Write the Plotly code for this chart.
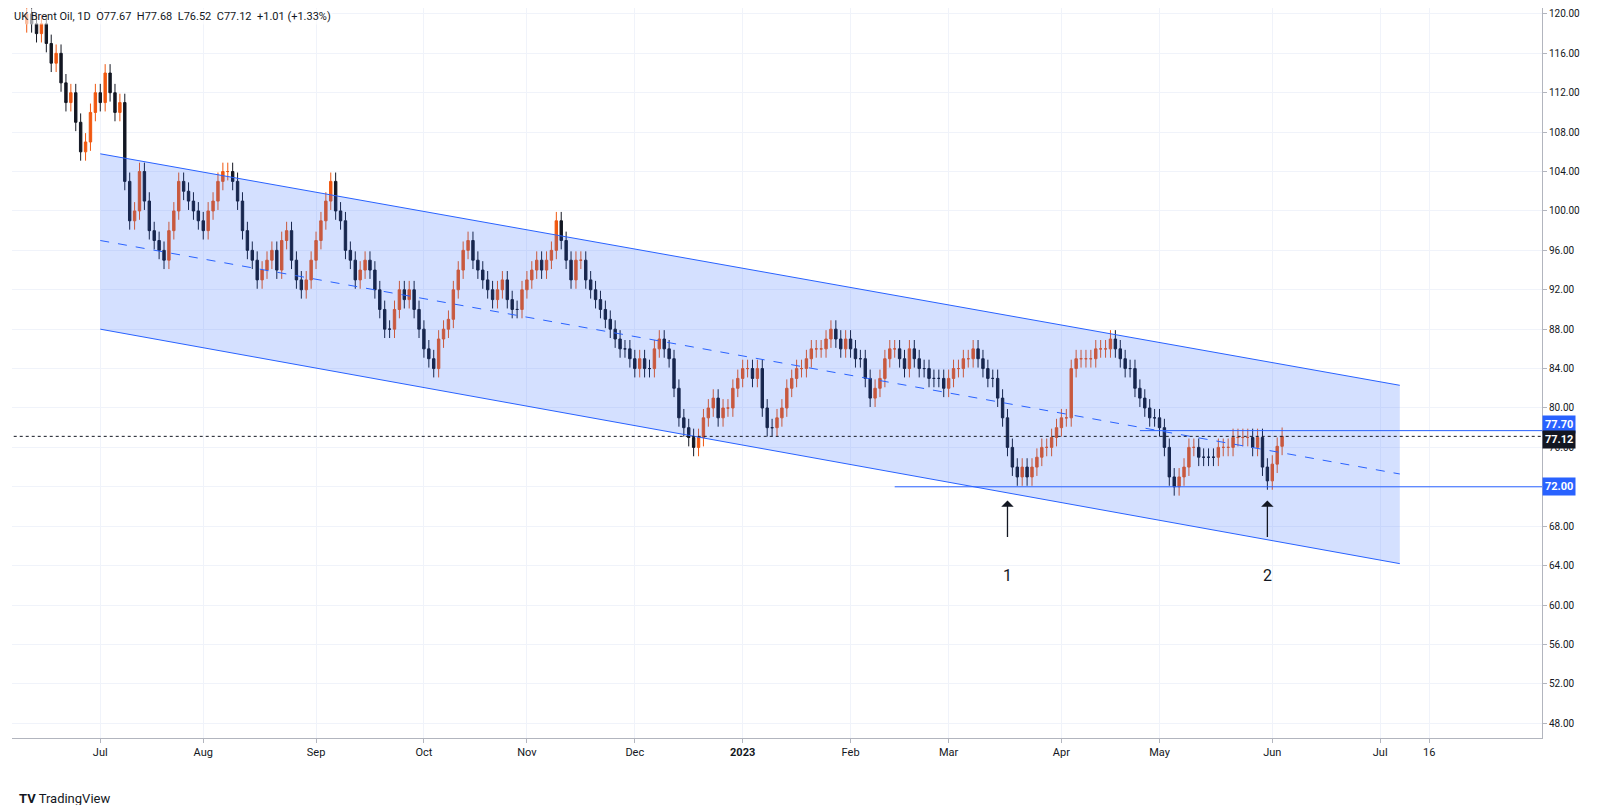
import pandas as pd
import plotly.graph_objects as go

closes = [
 # Jun 2022
 120,119,118,119,117,115,116,113,111,112,109,106,107,110,112,111,114,112,110,111,
 # Jul
 103,99,100,104,101,98,97,96,95,98,100,103,102,101,100,99,98,100,101,103,104,
 # Aug
 104,103,101,98,96,95,93,94,95,96,94,97,98,95,93,92,93,95,97,99,101,103,100,
 # Sep
 99,96,95,93,94,95,94,92,90,88,88,90,92,91,92,90,88,86,85,84,87,88,
 # Oct
 89,92,94,96,97,95,94,93,92,91,92,93,91,90,90,92,93,94,95,94,95,
 # Nov
 96,99,97,95,93,95,95,93,92,91,90,89,88,87,86,86,85,84,85,84,84,86,
 # Dec
 87,86,85,82,79,78,77,76,77,79,80,81,79,80,80,82,83,84,84,83,84,
 # Jan 2023
 80,78,78,79,80,82,83,84,84,85,86,86,86,87,88,87,86,87,86,85,85,
 # Feb
 83,81,82,83,85,86,86,85,84,86,85,84,84,83,83,83,82,83,84,
 # Mar
 84,85,85,86,85,84,83,83,81,79,76,74,73,74,73,74,75,76,76,77,78,79,79,
 # Apr
 84,85,85,85,85,86,86,86,87,86,85,84,84,82,81,80,79,79,78,
 # May
 76,73,72,73,74,76,76,75,75,75,75,76,76,76,77,77,77,77,76,77,74,72.6,
 # Jun
 74.3,76.11,77.12,
]
first_open = 119.0
wick = 0.9

dates = pd.bdate_range(end="2023-06-05", periods=len(closes))
opens = [first_open] + closes[:-1]
highs = [max(o, c) + wick for o, c in zip(opens, closes)]
lows = [min(o, c) - wick for o, c in zip(opens, closes)]

ch_x = ["2022-07-01", "2023-07-07"]
ch_upper = [105.8, 82.3]
ch_mid = [97.0, 73.3]
ch_lower = [88.0, 64.2]
support = 72.0
resist = 77.70
last = 77.12

tick_dates = ["2022-07-01","2022-08-01","2022-09-01","2022-10-03","2022-11-01","2022-12-01",
              "2023-01-02","2023-02-01","2023-03-01","2023-04-03","2023-05-01","2023-06-01",
              "2023-07-03","2023-07-17"]
tick_text = ["Jul","Aug","Sep","Oct","Nov","Dec","<b>2023</b>","Feb","Mar","Apr","May","Jun","Jul","16"]
y_ticks = list(range(48, 121, 4))

blue = "#2962ff"
fig = go.Figure()
fig.add_trace(go.Scatter(x=ch_x + ch_x[::-1], y=ch_upper + ch_lower[::-1], fill="toself", mode="lines",
    fillcolor="rgba(41,98,255,0.2)", line=dict(width=0), hoverinfo="skip", showlegend=False))
for ys, dash in [(ch_upper, "solid"), (ch_lower, "solid"), (ch_mid, "dash")]:
    fig.add_trace(go.Scatter(x=ch_x, y=ys, mode="lines", line=dict(color=blue, width=1, dash=dash),
                             showlegend=False, hoverinfo="skip"))
fig.add_trace(go.Scatter(x=["2023-02-14", "2023-08-30"], y=[support, support], mode="lines",
                         line=dict(color=blue, width=1), showlegend=False))
fig.add_trace(go.Scatter(x=["2023-04-25", "2023-08-30"], y=[resist, resist], mode="lines",
                         line=dict(color=blue, width=1), showlegend=False))
fig.add_trace(go.Scatter(x=["2022-05-20", "2023-08-30"], y=[last, last], mode="lines",
                         line=dict(color="#131722", width=1, dash="dot"), showlegend=False))
fig.add_trace(go.Candlestick(x=dates, open=opens, high=highs, low=lows, close=closes,
    increasing=dict(line=dict(color="#f0570f", width=1), fillcolor="#f0570f"),
    decreasing=dict(line=dict(color="#131722", width=1), fillcolor="#131722"),
    whiskerwidth=0, showlegend=False))

ann = []
for d, lab in [("2023-03-17", "1"), ("2023-05-31", "2")]:
    ann.append(dict(x=d, y=70.6, ax=0, ay=38, showarrow=True, arrowhead=1, arrowsize=1.6,
                    arrowwidth=1.3, arrowcolor="#131722", text=""))
    ann.append(dict(x=d, y=63.0, text=lab, showarrow=False, font=dict(size=16, color="#131722")))
for v, bg, ys in [(resist, blue, 6), (last, "#131722", -3), (support, blue, 0)]:
    ann.append(dict(xref="paper", x=1.0, xanchor="left", y=v, yref="y", yshift=ys, text=f"<b>{v:.2f}</b>",
                    showarrow=False, bgcolor=bg, font=dict(color="white", size=11), borderpad=2))
ann.append(dict(xref="paper", yref="paper", x=0.0, y=1.0, xanchor="left", yanchor="top",
                text="UK Brent Oil, 1D  O77.67  H77.68  L76.52  C77.12  +1.01 (+1.33%)",
                showarrow=False, font=dict(size=11, color="#131722"), bgcolor="rgba(255,255,255,0.6)"))
ann.append(dict(xref="paper", yref="paper", x=0.003, y=-0.07, xanchor="left", yanchor="top",
                text="<b>TV</b> TradingView", showarrow=False, font=dict(size=13, color="#131722")))

fig.update_layout(
    width=1613, height=805, margin=dict(l=4, r=79, t=0, b=75),
    paper_bgcolor="white", plot_bgcolor="white", font=dict(family="Roboto", size=11, color="#131722"),
    annotations=ann,
    xaxis=dict(rangeslider=dict(visible=False), range=["2022-06-07", "2023-08-17"],
               rangebreaks=[dict(bounds=["sat", "mon"])], tickvals=tick_dates, ticktext=tick_text,
               showgrid=True, gridcolor="#f0f3fa", showline=True, linecolor="#b2b5be", ticks="outside",
               ticklen=4, tickcolor="#b2b5be", automargin=False),
    yaxis=dict(side="right", range=[46.5, 120.6], tickvals=y_ticks, ticktext=[f"{v:.2f}" for v in y_ticks],
               showgrid=True, gridcolor="#f0f3fa", showline=True, linecolor="#b2b5be", ticks="outside",
               ticklen=4, tickcolor="#b2b5be", tickfont=dict(size=10), automargin=False),
)
fig.write_html("out.html")
